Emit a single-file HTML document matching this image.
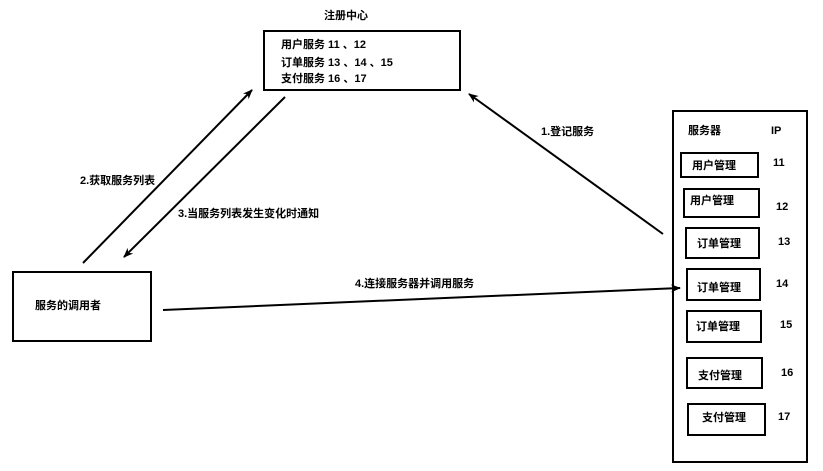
<!DOCTYPE html>
<html><head><meta charset="utf-8"><style>
html,body{margin:0;padding:0;background:#fff;}
svg{display:block;}
text{font-family:"Liberation Sans","Noto Sans CJK SC",sans-serif;font-size:11px;font-weight:bold;fill:#000;}
</style></head><body>
<svg width="823" height="471" viewBox="0 0 823 471" xmlns="http://www.w3.org/2000/svg">
<defs><marker id="a" markerWidth="10" markerHeight="8" refX="9" refY="4" orient="auto" markerUnits="userSpaceOnUse"><path d="M0,0 L10,4 L0,8 L3,4 z" fill="#000"/></marker></defs>
<g fill="none" stroke="#000" stroke-width="2">
<rect x="264" y="31" width="196" height="59"/>
<rect x="13" y="272" width="138" height="69"/>
<rect x="673" y="111" width="134" height="351"/>
<rect x="681" y="153" width="77" height="24"/>
<rect x="684" y="189" width="75" height="28"/>
<rect x="686" y="228" width="73" height="30"/>
<rect x="687" y="269" width="73" height="31"/>
<rect x="687" y="311" width="74" height="31"/>
<rect x="687" y="358" width="75" height="30"/>
<rect x="688" y="404" width="77" height="31"/>
<line x1="83" y1="263" x2="252" y2="90" marker-end="url(#a)"/>
<line x1="285" y1="97" x2="124" y2="257" marker-end="url(#a)"/>
<line x1="663" y1="234" x2="469" y2="94" marker-end="url(#a)"/>
<line x1="163" y1="310" x2="680" y2="288" marker-end="url(#a)"/>
</g>
<text x="324" y="19">注册中心</text>
<text x="281" y="48">用户服务 11 、12</text>
<text x="281" y="66">订单服务 13 、14 、15</text>
<text x="281" y="82">支付服务 16 、17</text>
<text x="35" y="309">服务的调用者</text>
<text x="688" y="134">服务器</text>
<text x="771" y="134">IP</text>
<text x="692" y="169">用户管理</text><text x="773" y="166">11</text>
<text x="690" y="204">用户管理</text><text x="776" y="210">12</text>
<text x="697" y="247">订单管理</text><text x="778" y="245">13</text>
<text x="697" y="291">订单管理</text><text x="776" y="287">14</text>
<text x="696" y="330">订单管理</text><text x="780" y="328">15</text>
<text x="698" y="379">支付管理</text><text x="781" y="376">16</text>
<text x="702" y="421">支付管理</text><text x="778" y="420">17</text>
<text x="541" y="135">1.登记服务</text>
<text x="80" y="184">2.获取服务列表</text>
<text x="178" y="217">3.当服务列表发生变化时通知</text>
<text x="355" y="287">4.连接服务器并调用服务</text>
</svg>
</body></html>
